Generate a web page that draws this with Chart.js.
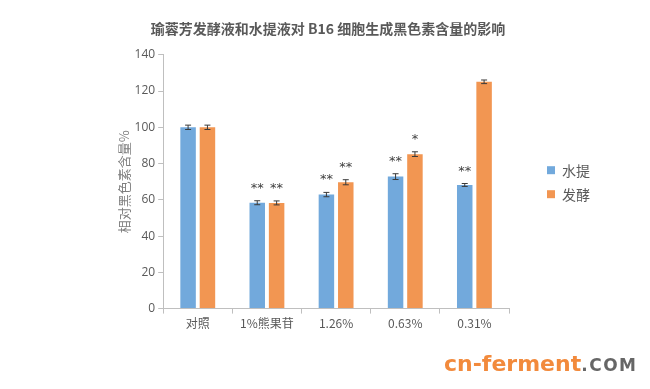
<!DOCTYPE html>
<html>
<head>
<meta charset="utf-8">
<script src="https://cdn.jsdelivr.net/npm/chart.js@4.4.0/dist/chart.umd.min.js"></script>
<style>
  body { margin: 0; background: #fff; }
  #wrap { position: relative; width: 650px; height: 389px; }
  #mark { position: absolute; left: 444px; top: 351px; font-family: 'DejaVu Sans', sans-serif; font-weight: bold; white-space: nowrap; }
  #mark .a { color: #f28a3c; font-size: 22px; }
  #mark .b { color: #666; font-size: 17px; letter-spacing: 1.5px; }
</style>
</head>
<body>
<div id="wrap">
  <canvas id="c" width="650" height="389"></canvas>
  <div id="mark"><span class="a">cn-ferment</span><span class="b">.COM</span></div>
</div>
<script>
const categories = ['对照', '1%熊果苷', '1.26%', '0.63%', '0.31%'];
const waterValues = [100, 58.4, 62.9, 72.8, 68.2];
const fermentValues = [100, 58.3, 69.7, 85.2, 125.1];
const waterErrors = [1.2, 1.1, 1.2, 1.6, 0.8];
const fermentErrors = [1.2, 1.1, 1.4, 1.3, 1.0];
const waterMarks = ['', '**', '**', '**', '**'];
const fermentMarks = ['', '**', '**', '*', ''];
const yTicks = [0, 20, 40, 60, 80, 100, 120, 140];

const cjk = "'Noto Sans CJK SC', sans-serif";

// error bars + significance stars, placed via the y scale
const errorBars = {
  id: 'errorBars',
  afterDatasetsDraw(chart) {
    const ctx = chart.ctx;
    const y = chart.scales.y;
    const errs = [waterErrors, fermentErrors];
    const marks = [waterMarks, fermentMarks];
    ctx.save();
    chart.data.datasets.forEach((ds, di) => {
      const meta = chart.getDatasetMeta(di);
      meta.data.forEach((bar, i) => {
        const v = ds.data[i];
        const top = y.getPixelForValue(v + errs[di][i]);
        const bot = y.getPixelForValue(v - errs[di][i]);
        ctx.strokeStyle = '#3a3a3a';
        ctx.lineWidth = 1;
        ctx.beginPath();
        ctx.moveTo(bar.x, top); ctx.lineTo(bar.x, bot);
        ctx.moveTo(bar.x - 3, top); ctx.lineTo(bar.x + 3, top);
        ctx.moveTo(bar.x - 3, bot); ctx.lineTo(bar.x + 3, bot);
        ctx.stroke();
        if (marks[di][i]) {
          ctx.fillStyle = '#404040';
          ctx.font = "13px 'DejaVu Sans', sans-serif";
          ctx.textAlign = 'center';
          ctx.textBaseline = 'alphabetic';
          ctx.fillText(marks[di][i], bar.x, top - 9);
        }
      });
    });
    ctx.restore();
  }
};

// empty axes used only to reserve room
const spacer = (pos, w, weight) => ({
  position: pos,
  display: true,
  weight: weight,
  grid: { display: false },
  border: { display: false },
  ticks: { display: false },
  afterFit: s => { s.width = w; }
});

new Chart(document.getElementById('c'), {
  type: 'bar',
  data: {
    labels: categories,
    datasets: [
      { label: '水提', data: waterValues, backgroundColor: '#72a9dc', barPercentage: 0.8, categoryPercentage: 0.56 },
      { label: '发酵', data: fermentValues, backgroundColor: '#f29652', barPercentage: 0.8, categoryPercentage: 0.56 }
    ]
  },
  options: {
    responsive: false,
    animation: false,
    layout: { padding: { left: 6, right: 0, bottom: 55, top: 0 } },
    plugins: {
      tooltip: { enabled: false },
      title: {
        display: true,
        text: '瑜蓉芳发酵液和水提液对 B16 细胞生成黑色素含量的影响',
        color: '#595959',
        font: { family: cjk, size: 14, weight: 'bold' },
        padding: { top: 20, bottom: 18 }
      },
      legend: {
        position: 'right',
        title: { display: true, text: ' ', font: { size: 2 }, padding: { top: 14, bottom: 14 } },
        labels: {
          boxWidth: 8,
          boxHeight: 8,
          padding: 10,
          color: '#595959',
          font: { family: cjk, size: 14 }
        }
      }
    },
    scales: {
      x: {
        grid: { display: true, drawOnChartArea: false, tickLength: 5, color: '#bfbfbf' },
        border: { color: '#bfbfbf' },
        ticks: { color: '#595959', font: { family: cjk, size: 12 }, maxRotation: 0 }
      },
      y: {
        min: 0,
        max: 140,
        afterBuildTicks: s => { s.ticks = yTicks.map(v => ({ value: v })); },
        grid: { display: true, drawOnChartArea: false, tickLength: 5, color: '#bfbfbf' },
        border: { color: '#bfbfbf' },
        ticks: { color: '#595959', font: { family: "'Open Sans', sans-serif", size: 12 }, padding: 3 },
        title: {
          display: true,
          text: '相对黑色素含量%',
          color: '#7f7f7f',
          font: { family: cjk, size: 13 },
          padding: { top: 10, bottom: 0 }
        }
      },
      padL: spacer('left', 100, 10),
      gap: spacer('right', 28, 0),
      padR: spacer('right', 50, 2000)
    }
  },
  plugins: [errorBars]
});
</script>
</body>
</html>
